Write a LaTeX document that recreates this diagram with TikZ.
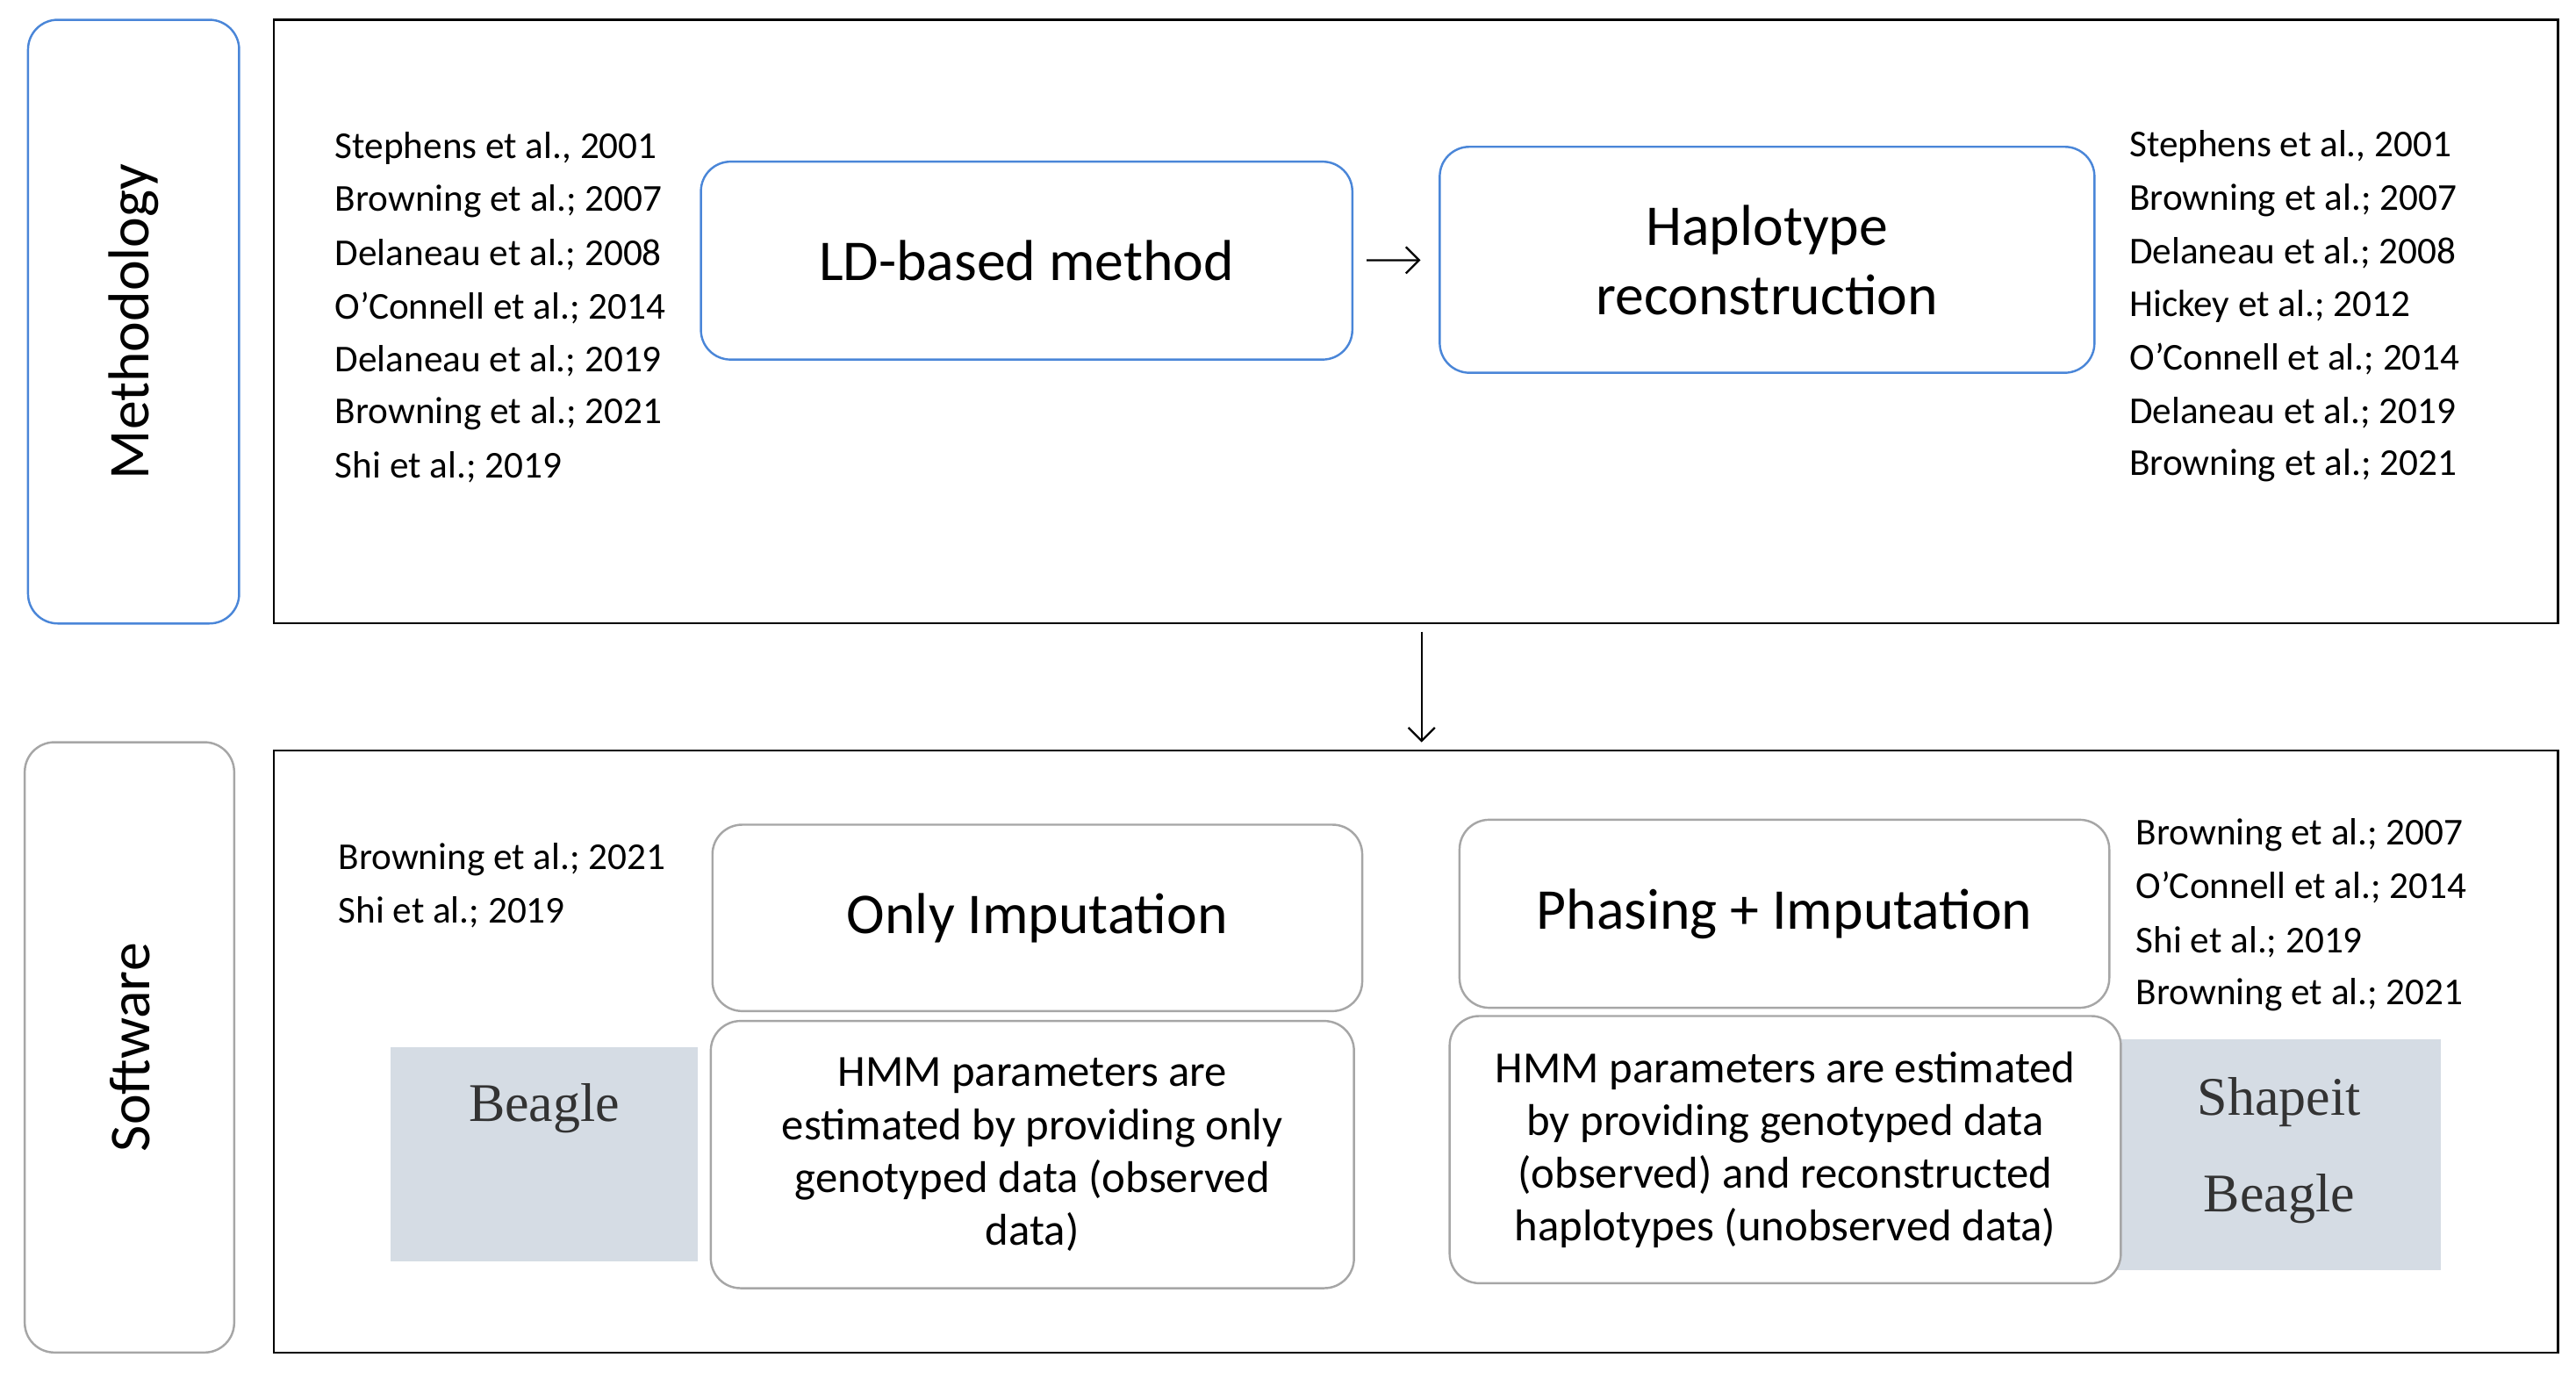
\documentclass[tikz,border=0pt]{standalone}
\usepackage{fontspec}
\usetikzlibrary{arrows.meta}
\setmainfont{Carlito}
\newfontfamily\serifb{Liberation Serif}
\definecolor{shadec}{HTML}{D5DCE4}
\definecolor{blueb}{HTML}{4A86D8}
\begin{document}
\begin{tikzpicture}[x=1pt,y=-1pt,
 cit/.style={anchor=west,font=\fontsize{23}{23}\selectfont,inner sep=0},
 bluebox/.style={draw=blueb,line width=1.3pt,rounded corners=18pt,fill=white},
 graybox/.style={draw=gray!70,line width=1.3pt,rounded corners=18pt,fill=white},
 frame/.style={draw=black,line width=1.2pt},
 big/.style={font=\fontsize{35}{42}\selectfont,align=center},
 hmm/.style={font=\fontsize{27}{32}\selectfont,align=center},
 shade/.style={fill=shadec,draw=none},
 arr/.style={-{Straight Barb[length=8pt,width=16pt]},line width=1.2pt},
 sw/.style={font=\serifb\fontsize{33}{33}\selectfont,text=gray!40!black}]
\useasboundingbox (0,0) rectangle (1562,836);
% Methodology
\draw[bluebox] (17,12) rectangle (145,378);
\node[rotate=90,big] (mlab) at (81,195) {Methodology};
\draw[frame] (166,12) rectangle (1551,378);
\foreach \t [count=\i] in {{Stephens et al., 2001},{Browning et al.; 2007},{Delaneau et al.; 2008},{O’Connell et al.; 2014},{Delaneau et al.; 2019},{Browning et al.; 2021},{Shi et al.; 2019}}
 \node[cit] (l\i) at (203,90+32.2*\i-32.2) {\t};
\node[bluebox,minimum width=395,minimum height=120,big] (ld) at (622.5,158) {LD-based method};
\node[bluebox,minimum width=397,minimum height=137,big] (hap) at (1071.5,157.5) {Haplotype\\reconstruction};
\draw[arr,shorten <=8pt,shorten >=11pt] (ld) -- (hap);
\foreach \t [count=\i] in {{Stephens et al., 2001},{Browning et al.; 2007},{Delaneau et al.; 2008},{Hickey et al.; 2012},{O’Connell et al.; 2014},{Delaneau et al.; 2019},{Browning et al.; 2021}}
 \node[cit] (r\i) at (1291,89+32.2*\i-32.2) {\t};
\coordinate (t1) at (862,383);
\coordinate (t2) at (862,450);
\draw[arr] (t1) -- (t2);
% Software
\draw[graybox] (15,450) rectangle (142,820);
\node[rotate=90,big] (slab) at (79,635) {Software};
\draw[frame] (166,455) rectangle (1551,820);
\node[cit] (b1) at (205,521) {Browning et al.; 2021};
\node[cit] (b2) at (205,553) {Shi et al.; 2019};
\node[cit] (c1) at (1295,506) {Browning et al.; 2007};
\node[cit] (c2) at (1295,538) {O’Connell et al.; 2014};
\node[cit] (c3) at (1295,571) {Shi et al.; 2019};
\node[cit] (c4) at (1295,603) {Browning et al.; 2021};
\fill[shade] (237,635) rectangle (423,765);
\node[sw] (beagle1) at (330,672) {Beagle};
\fill[shade] (1280,630) rectangle (1480,770);
\node[sw] (shapeit) at (1382,668) {Shapeit};
\node[sw] (beagle2) at (1382,727) {Beagle};
\node[graybox,minimum width=394,minimum height=113,big] (oi) at (629,556.5) {Only Imputation};
\node[graybox,minimum width=394,minimum height=114,big] (pi) at (1082,554) {Phasing + Imputation};
\node[graybox,minimum width=390,minimum height=162,hmm] (h1) at (626,700) {HMM parameters are\\estimated by providing only\\genotyped data (observed\\data)};
\node[graybox,minimum width=407,minimum height=162,hmm,inner sep=2pt] (h2) at (1082.5,697) {HMM parameters are estimated\\by providing genotyped data\\(observed) and reconstructed\\haplotypes (unobserved data)};
\end{tikzpicture}
\end{document}
